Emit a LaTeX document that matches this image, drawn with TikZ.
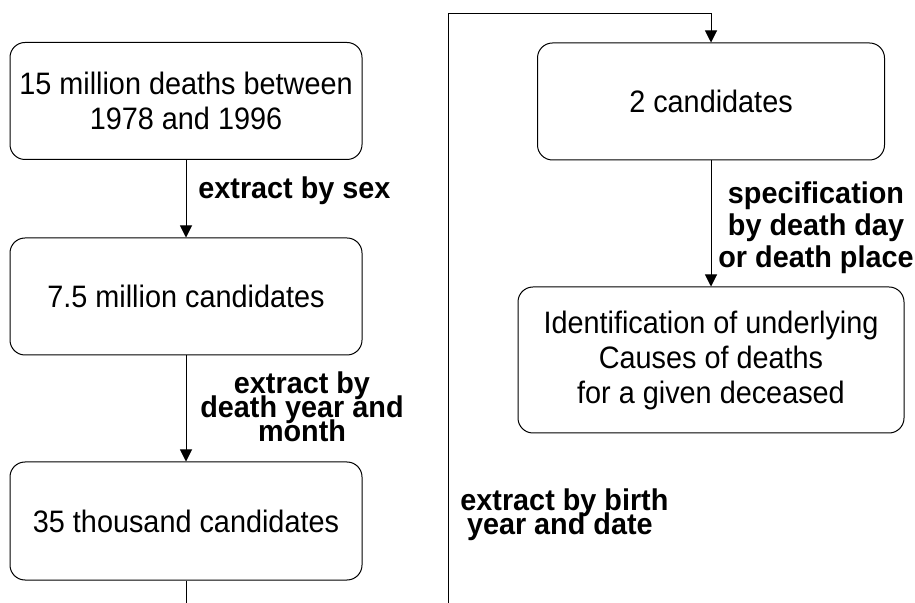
\documentclass[tikz,border=0pt]{standalone}
\usepackage{fontspec}
\setmainfont{Liberation Sans}
\newfontfamily\myboxfont{Liberation Sans}[FakeStretch=0.93]
\newfontfamily\mylblfont{Liberation Sans}[FakeStretch=0.96]
\usetikzlibrary{arrows.meta}
\newcommand\mytightls{\lineskiplimit=-20pt\relax}
\begin{document}
\begin{tikzpicture}[x=0.5pt,y=-0.5pt,
  box/.style={draw, line width=0.5pt, rounded corners=7.5pt, inner sep=0pt,
    align=center, font=\myboxfont\fontsize{15.5}{17.5}\selectfont\mytightls},
  lbl/.style={inner sep=0pt, font=\mylblfont\fontsize{15}{12}\selectfont\bfseries\mytightls},
  conn/.style={line width=0.5pt},
  arr/.style={conn, -{Triangle[length=6pt,width=6pt]}}]
\useasboundingbox (0,0) rectangle (915,603);
\node[box, minimum width=176pt, minimum height=58.5pt] (b1) at (186,101)
  {15 million deaths between\\1978 and 1996};
\node[box, minimum width=176pt, minimum height=58.5pt] (b2) at (186,296.5)
  {7.5 million candidates};
\node[box, minimum width=176pt, minimum height=59pt] (b3) at (186,521)
  {35 thousand candidates};
\node[box, minimum width=173.5pt, minimum height=58.5pt] (b4) at (711,101.5)
  {2 candidates};
\node[box, minimum width=193pt, minimum height=73pt] (b5) at (711,360)
  {Identification of underlying\\Causes of deaths\\for a given deceased};

\node[lbl, anchor=base west] (l1) at (198,199) {extract by sex};
\node[lbl, align=center] (l2) at (302,407) {extract by\\death year and\\month};
\node[lbl, align=center, font=\mylblfont\fontsize{15}{16}\selectfont\bfseries\mytightls] (l3) at (816,227.5)
  {specification\\by death day\\or death place};
\node[lbl, align=left, anchor=west] (l4) at (460,514.5)
  {extract by birth\\\hspace{3.3pt}year and date};

\coordinate (e3) at (186,603);
\coordinate (s1) at (448,603);
\coordinate (s2) at (448,14);
\coordinate (s3) at (711,14);

\draw[arr] (b1) -- (b2);
\draw[arr] (b2) -- (b3);
\draw[conn] (b3) -- (e3);
\draw[arr] (s1) -- (s2) -- (s3) -- (b4);
\draw[arr] (b4) -- (b5);
\end{tikzpicture}
\end{document}
